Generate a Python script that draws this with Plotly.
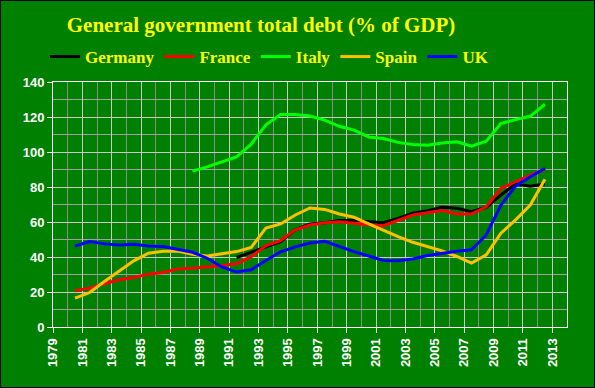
import plotly.graph_objects as go

years = list(range(1980, 2013))

germany_years = list(range(1991, 2013))
germany = [39.7, 42.7, 45.9, 48.8, 55.5, 58.9, 59.6, 60.8, 60.8, 60.2, 59.6,
           62.1, 65.0, 66.5, 68.4, 67.8, 65.9, 68.4, 75.4, 81.7, 80.5, 81.7]

france = [20.7, 22.2, 24.7, 27.0, 28.3, 30.2, 31.1, 33.2, 33.6, 34.2, 35.1,
          36.1, 40.2, 46.5, 49.4, 55.5, 58.3, 59.6, 60.2, 59.3, 58.3, 57.9,
          60.8, 64.0, 65.3, 66.5, 64.6, 64.6, 68.7, 79.2, 83.0, 86.8, 90.0]

italy_years = list(range(1988, 2013))
italy = [89.1, 91.5, 94.4, 97.2, 104.5, 115.5, 121.4, 121.4, 120.6, 118.2,
         114.7, 112.5, 108.6, 107.7, 105.5, 104.3, 103.9, 105.2, 105.8, 103.3,
         106.2, 116.3, 118.5, 120.4, 127.3]

spain = [16.5, 19.7, 26.0, 31.7, 37.8, 42.2, 43.3, 43.4, 41.6, 40.6, 42.0,
         43.1, 45.5, 56.6, 58.9, 64.0, 68.0, 67.2, 64.6, 62.7, 58.9, 55.1,
         51.6, 48.4, 45.9, 43.5, 40.3, 36.5, 41.2, 53.6, 61.2, 69.7, 84.4]

uk = [46.3, 48.8, 47.5, 46.9, 47.3, 46.3, 46.0, 44.5, 42.7, 39.3, 34.3,
      31.4, 32.7, 38.0, 43.0, 45.8, 48.0, 49.0, 45.9, 43.1, 40.6, 38.0,
      37.9, 38.9, 40.8, 42.2, 43.3, 44.1, 52.6, 69.7, 80.5, 85.9, 90.6]

series = [
    ("Germany", germany_years, germany, "#000000"),
    ("France", years, france, "#ff0000"),
    ("Italy", italy_years, italy, "#00ff00"),
    ("Spain", years, spain, "#ffc000"),
    ("UK", years, uk, "#0000ff"),
]

x_ticks = list(range(1979, 2014, 2))
y_ticks = list(range(0, 141, 20))

fig = go.Figure()
for name, yrs, vals, col in series:
    # annual values plotted at mid-year
    fig.add_trace(go.Scatter(x=[y + 0.5 for y in yrs], y=vals, name=name, mode="lines",
                             line=dict(color=col, width=3)))

W, H = 595, 388
L, R, T, B = 53, 28, 82, 61
pw, ph = W - L - R, H - T - B

fig.update_layout(
    width=W, height=H,
    margin=dict(l=L, r=R, t=T, b=B, autoexpand=False),
    paper_bgcolor="#008000", plot_bgcolor="#008000",
    title=dict(text="General government total debt (% of GDP)",
               font=dict(family="Liberation Serif", size=21, color="#ffff00", weight="bold"),
               x=261 / W, xanchor="center", xref="container",
               y=1 - 25 / H, yanchor="middle", yref="container"),
    legend=dict(orientation="h", xref="container", yref="container",
                x=45 / W, xanchor="left", y=1 - 57 / H, yanchor="middle",
                font=dict(family="Liberation Serif", size=17, color="#ffff00", weight="bold"),
                bgcolor="rgba(0,0,0,0)", itemwidth=30, tracegroupgap=0),
    showlegend=True,
    xaxis=dict(range=[1979, 2014], tickmode="array", tickvals=x_ticks,
               ticktext=[str(v) for v in x_ticks], tickangle=-90,
               tickfont=dict(family="Liberation Sans", size=13, color="#ffffff", weight="bold"),
               ticks="outside", ticklen=5, tickcolor="#ffffff", tickwidth=1,
               showline=True, linecolor="#ffffff", linewidth=1, mirror=True,
               showgrid=True, gridcolor="#c8c8c8", gridwidth=1, zeroline=False,
               minor=dict(dtick=1, tick0=1979, showgrid=True, gridcolor="#8c8c8c", gridwidth=1)),
    yaxis=dict(range=[0, 140], tickmode="array", tickvals=y_ticks,
               tickfont=dict(family="Liberation Sans", size=13, color="#ffffff", weight="bold"),
               ticks="outside", ticklen=5, tickcolor="#ffffff", tickwidth=1,
               showline=True, linecolor="#ffffff", linewidth=1, mirror=True,
               showgrid=True, gridcolor="#c8c8c8", gridwidth=1, zeroline=False,
               minor=dict(dtick=10, tick0=0, showgrid=True, gridcolor="#a0a0a0", gridwidth=1)),
)

# black frame around the whole image
fig.add_shape(type="rect", xref="paper", yref="paper",
              x0=-L / pw, x1=1 + R / pw, y0=-B / ph, y1=1 + T / ph,
              line=dict(color="#000000", width=2), fillcolor="rgba(0,0,0,0)", layer="above")

fig.write_html("out.html", config={"displayModeBar": False},
               post_script="document.body.style.margin='0';document.body.style.overflow='hidden';")
